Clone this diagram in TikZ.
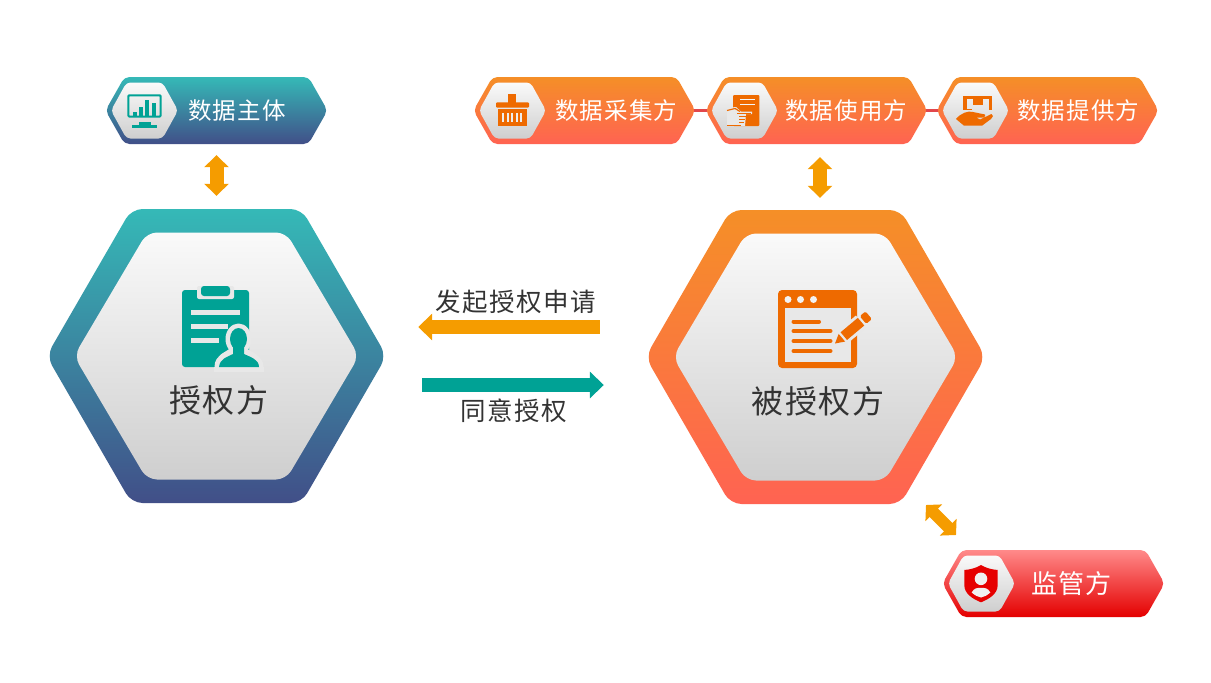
\documentclass[tikz,border=0pt]{standalone}
\usepackage{fontspec}
\setmainfont{Noto Sans CJK SC}
\usetikzlibrary{arrows.meta}

\definecolor{gradteal}{HTML}{35B9B7}
\definecolor{gradblue}{HTML}{414F88}
\definecolor{gradorange}{HTML}{F58F27}
\definecolor{gradcoral}{HTML}{FF6352}
\definecolor{gradpink}{HTML}{FF8A8A}
\definecolor{gradred}{HTML}{E40000}
\definecolor{iconteal}{HTML}{00A295}
\definecolor{iconorange}{HTML}{EE6A00}
\definecolor{iconred}{HTML}{E60000}
\definecolor{arroworange}{HTML}{F59C00}
\definecolor{linkred}{HTML}{E2474C}
\definecolor{gapgrey}{HTML}{E8E8E8}

\tikzstyle{tealgrad}=[top color=gradteal, bottom color=gradblue]
\tikzstyle{orangegrad}=[top color=gradorange, bottom color=gradcoral]
\tikzstyle{redgrad}=[top color=gradpink, bottom color=gradred]
\tikzstyle{greygrad}=[top color=black!2, bottom color=black!19]
\tikzstyle{bigbox}=[inner sep=0pt, minimum width=335pt, minimum height=294pt]
\tikzstyle{tagbox}=[inner sep=0pt, minimum width=221pt, minimum height=67pt]
\tikzstyle{taglabel}=[anchor=west, inner sep=0pt, text=white, font=\fontsize{23.5}{23.5}\selectfont\addfontfeatures{LetterSpace=5}]
\tikzstyle{biglabel}=[inner sep=0pt, text=black!80, font=\fontsize{32}{32}\selectfont\addfontfeatures{LetterSpace=5}]
\tikzstyle{midlabel}=[inner sep=0pt, text=black!80, font=\fontsize{25.5}{25.5}\selectfont\addfontfeatures{LetterSpace=6}]
\tikzstyle{flatarrow}=[line width=14pt, -{Triangle[length=14pt,width=26pt]}]
\tikzstyle{dblarrow}=[arroworange, line width=14pt, {Triangle[length=12pt,width=24pt]}-{Triangle[length=12pt,width=24pt]}]
\tikzstyle{link}=[linkred, line width=3pt, shorten >=-1.5pt, shorten <=-1.5pt]

% center, half width, half height, half top edge, radius, style
\newcommand{\hexfill}[6]{\path[#6, rounded corners=#5pt, shift={(#1)}] (0,-#3) -- (#4,-#3) -- (#2,0) -- (#4,#3) -- (-#4,#3) -- (-#2,0) -- (-#4,-#3) -- cycle;}
% name, position, gradient, text offset, text
\newcommand{\tagnode}[5]{
  \node (#1) [tagbox] at (#2) {};
  \hexfill{#1}{111}{33.5}{92}{5}{#3}
  \node (#1 icon) [inner sep=0pt] at ([xshift=-72pt]#1.center) {};
  \hexfill{#1 icon}{33.5}{28}{18}{4}{greygrad}
  \node (#1 label) [taglabel] at ([xshift=#4pt]#1.west) {#5};
}

\begin{document}
\begin{tikzpicture}[x=1pt, y=-1pt]
  \useasboundingbox (0,0) rectangle (1211,683);

  % big hexagons
  \node (grantor) [bigbox] at (216.5,356) {};
  \hexfill{grantor}{170}{147}{85}{11}{tealgrad}
  \hexfill{grantor}{142.5}{123.5}{69.5}{10}{greygrad}
  \node (grantee) [bigbox] at (815.5,357) {};
  \hexfill{grantee}{170}{147}{85}{11}{orangegrad}
  \hexfill{grantee}{142.5}{123.5}{69.5}{10}{greygrad}

  \node (grantorlabel) [biglabel] at (219,400) {授权方};
  \node (granteelabel) [biglabel] at (818,401) {被授权方};

  % tags
  \tagnode{subject}{216.5,110.5}{tealgrad}{82}{数据主体}
  \tagnode{collector}{584.5,110.5}{orangegrad}{81}{数据采集方}
  \tagnode{user}{816.5,110.5}{orangegrad}{79}{数据使用方}
  \tagnode{provider}{1047.5,110.5}{orangegrad}{80}{数据提供方}
  \tagnode{regulator}{1053.5,583.5}{redgrad}{88}{\fontsize{26}{26}\selectfont\addfontfeatures{LetterSpace=4}监管方}

  \draw [link] (collector.east) -- (user.west);
  \draw [link] (user.east) -- (provider.west);

  % arrows
  \draw [dblarrow] ([yshift=-11pt]subject.south) -- ([yshift=13pt]grantor.north);
  \draw [dblarrow] ([xshift=3.5pt,yshift=-13pt]user.south) -- ([xshift=4.5pt,yshift=12pt]grantee.north);
  \coordinate (diagstart) at (926,505);
  \coordinate (diagend) at (956,535);
  \draw [arroworange, line width=12pt, {Triangle[length=11pt,width=23pt]}-{Triangle[length=11pt,width=23pt]}] (diagstart) -- (diagend);
  \draw [flatarrow, arroworange] ([xshift=-48pt,yshift=30pt]grantee.west) -- ([xshift=34pt,yshift=29pt]grantor.east);
  \draw [flatarrow, iconteal] ([xshift=38pt,yshift=-29pt]grantor.east) -- ([xshift=-44pt,yshift=-28pt]grantee.west);
  \node (requestlabel) [midlabel] at (516,302) {发起授权申请};
  \node (consentlabel) [midlabel] at (514,411) {同意授权};

  % clipboard icon
  \fill [iconteal, rounded corners=3pt] (182,290) rectangle (249,367);
  \fill [gapgrey, rounded corners=2pt] (197,286) rectangle (234,299);
  \fill [iconteal, rounded corners=3pt] (201,286) rectangle (230,296);
  \fill [gapgrey] (191,309.5) rectangle (239.5,314.5);
  \fill [gapgrey] (191,324) rectangle (228,328.5);
  \fill [gapgrey] (191,338) rectangle (219,343);
  \fill [gapgrey] (238.5,339) ellipse (13pt and 15.5pt);
  \path [fill=gapgrey, draw=gapgrey, line width=9pt, line join=round] (219,367) .. controls (219,358) and (228,356) .. (233,352) -- (244,352) .. controls (249,356) and (259,359) .. (259,367) -- cycle;
  \fill [gapgrey] (214,367) rectangle (264,372);
  \fill [iconteal] (219,367) .. controls (220,358) and (228,357) .. (233,354) -- (233,345) -- (244,345) -- (244,354) .. controls (250,357) and (259,359) .. (259,367) -- cycle;
  \fill [iconteal] (238.5,339) ellipse (8.5pt and 11pt);

  % window icon
  \fill [iconorange, rounded corners=4pt] (778,290) rectangle (857,368);
  \fill [black!9] (785,308) rectangle (851,362);
  \foreach \dotx in {788,800.5,813.5}
    \fill [black!5] (\dotx,299.5) circle (3.5pt);
  \draw [iconorange, line width=4pt, line cap=round] (793.5,321.5) -- (819,321.5);
  \foreach \liney in {331,341,351}
    \draw [iconorange, line width=4pt, line cap=round] (793.5,\liney) -- (830.5,\liney);
  \begin{scope}[shift={(835,343.5)}, rotate=40]
    \fill [black!9] (3,-8) rectangle (34,8);
    \fill [iconorange] (0,0) -- (9,-5) -- (9,5) -- cycle;
    \fill [iconorange] (11.5,-5) rectangle (34,5);
    \fill [iconorange, rounded corners=1.5pt] (36.5,-5) rectangle (44,5);
  \end{scope}

  % monitor icon
  \draw [iconteal, line width=2pt, rounded corners=1pt] (128.3,95.3) rectangle (160.7,116.5);
  \fill [iconteal] (133.3,111.7) rectangle (137.3,115.7);
  \fill [iconteal] (139,106.7) rectangle (142.7,115.7);
  \fill [iconteal] (145.3,100) rectangle (149.3,115.7);
  \fill [iconteal] (151.7,103.3) rectangle (155.7,115.7);
  \fill [iconteal] (139.3,121.7) rectangle (150.7,125);
  \fill [iconteal] (132,125) rectangle (156.7,127.7);

  % basket icon
  \fill [iconorange] (498.3,109.3) rectangle (526.7,125.7);
  \foreach \slitx in {503.3,508,512.3,517,521.3}
    \fill [black!7] (\slitx-1,113.3) rectangle (\slitx+1,122.3);
  \fill [iconorange, rounded corners=1pt] (496,102.3) rectangle (529,107.7);
  \fill [iconorange] (507.7,94) rectangle (515.7,105.7);

  % document and hand icon
  \fill [iconorange, rounded corners=1pt] (733,95) rectangle (759.3,126);
  \draw [black!4, line width=1.3pt] (740,99.7) -- (755,99.7);
  \draw [black!4, line width=1.3pt] (740,104.7) -- (755,104.7);
  \fill [gapgrey] (727,108) -- (736,107) -- (741,111.5) -- (752,111.5) -- (752,114) -- (746,114) -- (745,126) -- (727,126) -- cycle;
  \draw [iconorange, line width=1.2pt] (727,110.5) -- (735,108.5) -- (740,111.5);
  \draw [iconorange, line width=1.2pt] (737,113.5) -- (751,113.5);
  \draw [iconorange, line width=1.2pt] (739,116.5) -- (746,116.5);
  \draw [iconorange, line width=1.2pt] (739,119.5) -- (745,119.5);
  \draw [iconorange, line width=1.2pt] (739,122.5) -- (744,122.5);
  \draw [iconorange, line width=1.2pt] (727,125.5) -- (741,125.5);

  % hand with box icon
  \fill [iconorange] (963.3,96) rectangle (992.3,98.5);
  \fill [iconorange] (963.3,96) rectangle (966.5,110);
  \fill [iconorange] (989,96) rectangle (992.3,110);
  \fill [iconorange] (972.7,96) rectangle (983.3,105);
  \fill [iconorange] (966.5,108.5) rectangle (972,110);
  \fill [iconorange] (956,119) .. controls (961,113) and (968,110.5) .. (973,112) -- (985,114.5) .. controls (986,117) and (983,118) .. (980,117.5) -- (976,117.5) -- (980,119.5) -- (991.5,114) .. controls (994,115) and (993,117) .. (991,119) -- (982,125.7) -- (964,125.7) -- cycle;

  % shield icon
  \fill [iconred] (981,565) .. controls (987,568.5) and (992,569.5) .. (997.7,570) -- (997.7,585) .. controls (997.7,594) and (989,599) .. (981,602.3) .. controls (973,599) and (964.3,594) .. (964.3,585) -- (964.3,570) .. controls (970,569.5) and (975,568.5) .. (981,565) -- cycle;
  \fill [black!6] (981,578.8) circle (6.3pt);
  \fill [black!6] (971.7,592.5) .. controls (974,588) and (977,587.8) .. (981,587.8) .. controls (985,587.8) and (988,588) .. (990.3,592.5) .. controls (987,595.5) and (984,597) .. (981,597.5) .. controls (978,597) and (975,595.5) .. (971.7,592.5) -- cycle;
\end{tikzpicture}
\end{document}
